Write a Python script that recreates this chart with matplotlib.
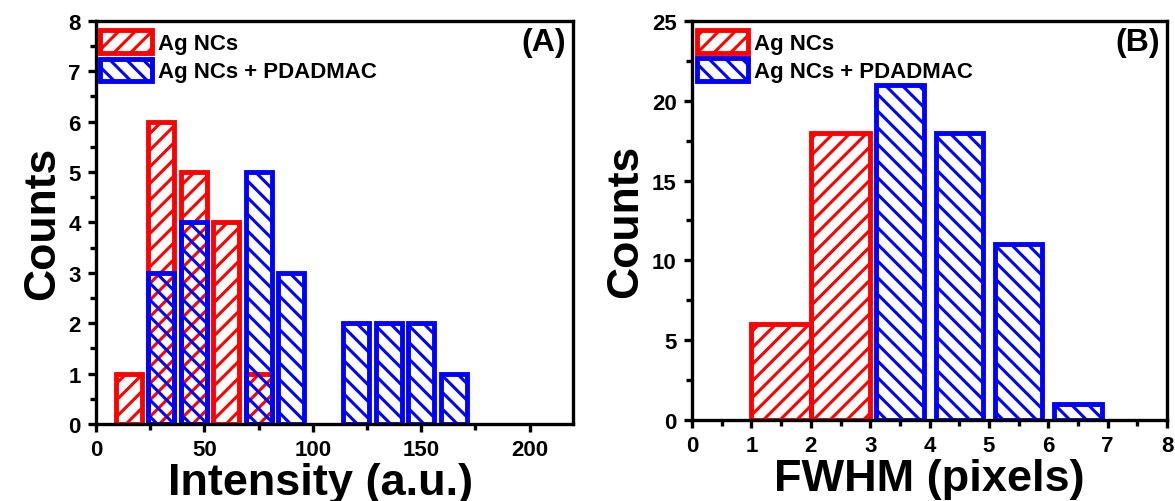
import numpy as np
import matplotlib.pyplot as plt
from matplotlib.ticker import MultipleLocator

plt.rcParams['font.family'] = ['Liberation Sans', 'DejaVu Sans']
plt.rcParams['font.weight'] = 'bold'
plt.rcParams['hatch.linewidth'] = 2.2

# painel A - intensidade
int_ag_x = [15, 30, 45, 60, 75]
int_ag_n = [1, 6, 5, 4, 1]
int_pd_x = [30, 45, 75, 90, 120, 135, 150, 165]
int_pd_n = [3, 4, 5, 3, 2, 2, 2, 1]

# painel B - FWHM
fw_ag_x = [1.5, 2.5]
fw_ag_n = [6, 18]
fw_pd_x = [3.5, 4.5, 5.5, 6.5]
fw_pd_n = [21, 18, 11, 1]

vermelho = '#ff0000'
azul = '#0000ff'
lw_borda = 3.5

fig = plt.figure(figsize=(11.75, 5.02), dpi=100)
axA = fig.add_axes([0.0817, 0.1534, 0.406, 0.803])
axB = fig.add_axes([0.589, 0.1614, 0.4043, 0.795])


def estilo(ax):
    for s in ax.spines.values():
        s.set_linewidth(2.4)
    ax.tick_params(which='major', direction='out', length=6, width=2.4,
                   labelsize=16, pad=5)
    ax.tick_params(which='minor', direction='out', length=4, width=2.4)
    for lab in ax.get_xticklabels() + ax.get_yticklabels():
        lab.set_fontweight('bold')
    ax.set_ylabel('Counts', fontsize=32, fontweight='bold', labelpad=4)


# ---- A ----
axA.bar(int_ag_x, int_ag_n, width=12, facecolor='none', edgecolor=vermelho,
        hatch='//', linewidth=lw_borda, label='Ag NCs')
axA.bar(int_pd_x, int_pd_n, width=12, facecolor='none', edgecolor=azul,
        hatch='\\\\', linewidth=lw_borda, label='Ag NCs + PDADMAC')
axA.set_xlim(0, 220)
axA.set_ylim(0, 8)
axA.xaxis.set_major_locator(MultipleLocator(50))
axA.xaxis.set_minor_locator(MultipleLocator(25))
axA.yaxis.set_major_locator(MultipleLocator(1))
axA.yaxis.set_minor_locator(MultipleLocator(0.5))
estilo(axA)
axA.set_xlabel('Intensity (a.u.)', fontsize=32.5, fontweight='bold')
axA.xaxis.set_label_coords(0.47, -0.095)
axA.text(0.985, 0.985, '(A)', transform=axA.transAxes, ha='right', va='top',
         fontsize=23, fontweight='bold')

# ---- B ----
axB.bar(fw_ag_x, fw_ag_n, width=1.0, facecolor='none', edgecolor=vermelho,
        hatch='//', linewidth=lw_borda, label='Ag NCs')
axB.bar(fw_pd_x, fw_pd_n, width=0.8, facecolor='none', edgecolor=azul,
        hatch='\\\\', linewidth=lw_borda, label='Ag NCs + PDADMAC')
axB.set_xlim(0, 8)
axB.set_ylim(0, 25)
axB.xaxis.set_major_locator(MultipleLocator(1))
axB.xaxis.set_minor_locator(MultipleLocator(0.5))
axB.yaxis.set_major_locator(MultipleLocator(5))
axB.yaxis.set_minor_locator(MultipleLocator(2.5))
estilo(axB)
axB.set_xlabel('FWHM (pixels)', fontsize=32.5, fontweight='bold')
axB.xaxis.set_label_coords(0.5, -0.095)
axB.text(0.985, 0.985, '(B)', transform=axB.transAxes, ha='right', va='top',
         fontsize=23, fontweight='bold')

for ax in (axA, axB):
    ax.legend(loc='upper left', bbox_to_anchor=(0.0, 0.988), frameon=False,
              handlelength=2.3, handleheight=1.2, handletextpad=0.3,
              labelspacing=0.2, borderpad=0.1, borderaxespad=0.1,
              prop={'weight': 'bold', 'size': 16})

fig.savefig('out.png', dpi=100)
